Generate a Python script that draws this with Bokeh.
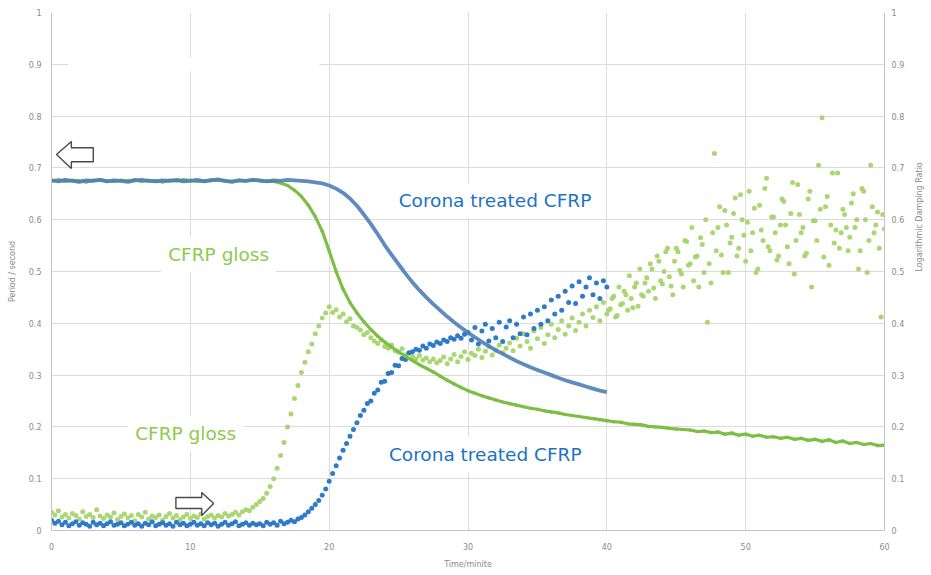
import math
from bokeh.plotting import figure
from bokeh.models import (Range1d, LinearAxis, FixedTicker, CustomJSTickFormatter,
                          Label, BoxAnnotation)
from bokeh.embed import file_html
from bokeh.resources import INLINE

# ---------------- data ----------------
PERIOD_STEP = 0.5     # minutes between period samples
DAMP_STEP = 0.25      # minutes between damping samples
TAIL_START = 40.125   # first time of the interleaved late gloss damping samples

# Period / second, Corona treated CFRP (0 .. 40 min)
period_corona = [
    0.676, 0.674, 0.677, 0.675, 0.673, 0.676, 0.675, 0.677, 0.674, 0.676,
    0.675, 0.673, 0.676, 0.677, 0.675, 0.674, 0.676, 0.675, 0.677, 0.674,
    0.675, 0.677, 0.674, 0.676, 0.678, 0.675, 0.673, 0.676, 0.675, 0.677,
    0.676, 0.674, 0.676, 0.675, 0.677, 0.676,
    0.675, 0.674, 0.672, 0.670, 0.666, 0.660, 0.652, 0.641, 0.627, 0.610,
    0.592, 0.572,
    0.551, 0.532, 0.514, 0.496, 0.479, 0.464, 0.450, 0.437, 0.425, 0.413,
    0.402, 0.392,
    0.382, 0.373, 0.364, 0.356, 0.348, 0.341, 0.334, 0.327, 0.321, 0.315,
    0.310, 0.305,
    0.300, 0.295, 0.290, 0.286, 0.282, 0.278, 0.274, 0.270, 0.267,
]

# Period / second, CFRP gloss (0 .. 60 min)
period_gloss = [
    0.675, 0.677, 0.674, 0.676, 0.675, 0.673, 0.676, 0.677, 0.675, 0.674,
    0.676, 0.675, 0.677, 0.674, 0.676, 0.675, 0.673, 0.676, 0.675, 0.677,
    0.676, 0.674, 0.675, 0.677, 0.676, 0.675, 0.674, 0.676, 0.675, 0.677,
    0.675, 0.674,
    0.674, 0.671, 0.666, 0.657, 0.645, 0.628, 0.606, 0.578, 0.540, 0.500,
    0.466, 0.440,
    0.420, 0.403, 0.388, 0.375, 0.364, 0.354, 0.345, 0.336, 0.328, 0.320,
    0.313, 0.306,
    0.298, 0.290, 0.283, 0.276, 0.270, 0.265, 0.260, 0.256, 0.252, 0.248,
    0.245, 0.242,
    0.239, 0.236, 0.234, 0.231, 0.229, 0.227, 0.224, 0.222, 0.220, 0.218,
    0.216, 0.214,
    0.212, 0.210, 0.209, 0.206, 0.205, 0.204, 0.201, 0.200, 0.199, 0.197,
    0.196, 0.195,
    0.194, 0.191, 0.192, 0.189, 0.190, 0.186, 0.188, 0.184, 0.186, 0.182,
    0.184, 0.180,
    0.181, 0.178, 0.180, 0.176, 0.178, 0.174, 0.176, 0.172, 0.175, 0.170,
    0.173, 0.168, 0.170, 0.166, 0.168, 0.164, 0.165,
]

# Logarithmic damping ratio, Corona treated CFRP (0 .. 40 min)
damp_corona = [
    0.020, 0.014, 0.018, 0.011, 0.016, 0.009, 0.013, 0.017, 0.010, 0.015,
    0.012, 0.008, 0.016, 0.011, 0.014, 0.009, 0.013, 0.017, 0.010, 0.012,
    0.015, 0.009, 0.012, 0.016, 0.010, 0.013, 0.008, 0.014, 0.011, 0.017,
    0.009, 0.012, 0.015, 0.010, 0.013, 0.008, 0.016, 0.011, 0.014, 0.009,
    0.012, 0.016, 0.010, 0.013, 0.009, 0.015, 0.011, 0.014, 0.008, 0.012,
    0.016, 0.010, 0.013, 0.017, 0.009, 0.012, 0.015, 0.010, 0.014, 0.011,
    0.013, 0.009, 0.016, 0.012, 0.015, 0.010, 0.018, 0.013, 0.016, 0.020,
    0.017, 0.022,
    0.025, 0.030, 0.036, 0.043, 0.050, 0.058, 0.068, 0.080,
    0.095, 0.110, 0.125, 0.140, 0.155, 0.168, 0.182, 0.195, 0.208, 0.222,
    0.232, 0.245,
    0.250, 0.265, 0.271, 0.286, 0.288, 0.303, 0.305, 0.319, 0.318, 0.332,
    0.330, 0.343,
    0.345, 0.350, 0.348, 0.356, 0.352, 0.360, 0.357, 0.364, 0.361, 0.368,
    0.365, 0.372, 0.369, 0.376, 0.371, 0.379,
    0.382, 0.368, 0.392, 0.360, 0.385, 0.398, 0.366, 0.390, 0.372, 0.402,
    0.365, 0.393, 0.405, 0.372, 0.398, 0.380, 0.412, 0.378, 0.418, 0.390,
    0.425, 0.398, 0.432, 0.405, 0.445, 0.418, 0.452, 0.425, 0.462, 0.440,
    0.472, 0.438, 0.480, 0.452, 0.470, 0.488, 0.455, 0.478, 0.448, 0.482,
    0.470,
]

# Logarithmic damping ratio, CFRP gloss (0 .. 60 min)
damp_gloss = [
    0.035, 0.030, 0.038, 0.026, 0.031, 0.024, 0.033, 0.029, 0.022, 0.036,
    0.027, 0.031, 0.025, 0.040, 0.028, 0.023, 0.030, 0.026, 0.034, 0.021,
    0.027, 0.032, 0.024, 0.029, 0.019, 0.031, 0.026, 0.035, 0.022, 0.028,
    0.025, 0.030, 0.020, 0.027, 0.033, 0.024, 0.029, 0.021, 0.026, 0.031,
    0.023, 0.028, 0.025, 0.032, 0.022, 0.027, 0.030, 0.024, 0.029, 0.026,
    0.033, 0.028, 0.031, 0.035, 0.030, 0.036,
    0.040, 0.038, 0.045, 0.050, 0.056, 0.062, 0.072, 0.085, 0.100, 0.120,
    0.145, 0.170, 0.200, 0.225, 0.255, 0.280,
    0.305, 0.325, 0.345, 0.360, 0.380, 0.395, 0.410, 0.420,
    0.432, 0.421, 0.426, 0.412, 0.418, 0.403, 0.409, 0.395, 0.392, 0.387,
    0.378, 0.382,
    0.372, 0.366, 0.361, 0.368, 0.355, 0.352, 0.358, 0.347, 0.344, 0.351,
    0.339, 0.342, 0.336, 0.331, 0.338, 0.329, 0.333, 0.326, 0.331, 0.324,
    0.328, 0.335, 0.322, 0.331, 0.340, 0.326, 0.336, 0.345, 0.330, 0.342,
    0.338, 0.350, 0.334, 0.346, 0.355, 0.339, 0.348, 0.358, 0.343, 0.352,
    0.362, 0.347, 0.371, 0.356, 0.380, 0.365, 0.352, 0.385, 0.370, 0.392,
    0.361, 0.378, 0.398, 0.372, 0.388, 0.405, 0.379, 0.395, 0.410, 0.386,
    0.402, 0.418, 0.395, 0.425, 0.411, 0.432, 0.405, 0.440, 0.418, 0.428,
    0.452, 0.415, 0.436, 0.462, 0.425, 0.448, 0.470, 0.433, 0.455, 0.478,
    0.462, 0.505, 0.448, 0.520, 0.476, 0.538, 0.490, 0.455, 0.545, 0.502,
    0.470, 0.558, 0.515, 0.482, 0.530, 0.565, 0.498, 0.402, 0.478, 0.728,
    0.585, 0.532, 0.618, 0.498, 0.566, 0.642, 0.545, 0.600, 0.520, 0.655,
    0.575, 0.498, 0.628, 0.560, 0.680, 0.540, 0.605, 0.522, 0.590, 0.635,
    0.548, 0.612, 0.495, 0.668, 0.575, 0.530, 0.640, 0.470, 0.598, 0.705,
    0.797, 0.625, 0.512, 0.690, 0.580, 0.545, 0.620, 0.585, 0.566, 0.650,
    0.600, 0.540, 0.655, 0.498, 0.705, 0.575, 0.615, 0.412, 0.582,
]

# extra (interleaved) CFRP gloss damping samples, 40.125 .. 59.875 min
damp_gloss_tail = [
    0.425, 0.448, 0.412, 0.470, 0.438, 0.455, 0.492, 0.430, 0.478, 0.505,
    0.452, 0.488, 0.515, 0.468, 0.530, 0.482, 0.500, 0.545, 0.472, 0.520,
    0.538, 0.495, 0.560, 0.512, 0.585, 0.528, 0.470, 0.552, 0.600, 0.515,
    0.575, 0.540, 0.625, 0.498, 0.590, 0.555, 0.612, 0.530, 0.648, 0.570,
    0.595, 0.540, 0.622, 0.505, 0.580, 0.660, 0.548, 0.605, 0.575, 0.530,
    0.640, 0.590, 0.515, 0.672, 0.560, 0.610, 0.585, 0.535, 0.655, 0.598,
    0.560, 0.620, 0.528, 0.645, 0.590, 0.555, 0.690, 0.575, 0.610, 0.540,
    0.632, 0.585, 0.505, 0.660, 0.600, 0.560, 0.625, 0.590, 0.545, 0.610,
]

x_ticks = [0, 10, 20, 30, 40, 50, 60]
y_ticks = [0, 0.1, 0.2, 0.3, 0.4, 0.5, 0.6, 0.7, 0.8, 0.9, 1.0]

label_corona = "Corona treated CFRP"
label_gloss = "CFRP gloss"
x_title = "Time/minite"
y_left_title = "Period / second"
y_right_title = "Logarithmic Damping Ratio"


def sample_times(vals, step, start=0.0):
    return [round(start + i * step, 3) for i in range(len(vals))]


t_pc = sample_times(period_corona, PERIOD_STEP)
t_pg = sample_times(period_gloss, PERIOD_STEP)
t_dc = sample_times(damp_corona, DAMP_STEP)
t_dg = sample_times(damp_gloss, DAMP_STEP)
t_dgt = sample_times(damp_gloss_tail, DAMP_STEP, TAIL_START)

# ---------------- styling ----------------
C_PERIOD_CORONA = "#4d7fb6"
C_PERIOD_GLOSS = "#7dbf45"
C_DAMP_CORONA = "#2474c6"
C_DAMP_GLOSS = "#a5d46c"
C_TEXT_BLUE = "#1c72c4"
C_TEXT_GREEN = "#8dca4e"
TICK_COLOR = "#8a8a8a"
GRID_COLOR = "#dcdcdc"
AXIS_COLOR = "#c4c4c4"

p = figure(width=931, height=575, output_backend="svg", toolbar_location=None,
           x_range=Range1d(0, 60), y_range=Range1d(0, 1),
           min_border_left=51, min_border_right=43, min_border_top=12,
           min_border_bottom=45)
p.outline_line_color = None
p.background_fill_color = "white"
p.extra_y_ranges = {"damp": Range1d(0, 1)}

fmt = CustomJSTickFormatter(code="return (Math.round(tick * 10) / 10).toString();")

p.xaxis.ticker = FixedTicker(ticks=x_ticks)
p.yaxis.ticker = FixedTicker(ticks=y_ticks)
p.yaxis.formatter = fmt
p.xaxis.axis_label = x_title
p.yaxis.axis_label = y_left_title

right_axis = LinearAxis(y_range_name="damp", ticker=FixedTicker(ticks=y_ticks),
                        formatter=fmt, axis_label=y_right_title)
# read the right title bottom-to-top, as in the reference (if supported)
if "axis_label_orientation" in right_axis.properties():
    right_axis.axis_label_orientation = math.pi / 2
p.add_layout(right_axis, "right")

for ax in [p.xaxis[0], p.yaxis[0], right_axis]:
    ax.major_tick_out = 0
    ax.major_tick_in = 0
    ax.minor_tick_out = 0
    ax.minor_tick_in = 0
    ax.axis_line_color = AXIS_COLOR
    ax.axis_line_width = 1
    ax.major_label_text_font = "DejaVu Sans"
    ax.major_label_text_font_size = "8px"
    ax.major_label_text_color = TICK_COLOR
    ax.axis_label_text_font = "DejaVu Sans"
    ax.axis_label_text_font_size = "8px"
    ax.axis_label_text_font_style = "normal"
    ax.axis_label_text_color = TICK_COLOR

p.xaxis.major_label_standoff = 12
p.xaxis.axis_label_standoff = 7
p.yaxis[0].major_label_standoff = 10
p.yaxis[0].axis_label_standoff = 9
right_axis.major_label_standoff = 7
right_axis.axis_label_standoff = 12

p.xgrid.ticker = FixedTicker(ticks=x_ticks)
p.ygrid.ticker = FixedTicker(ticks=y_ticks)
p.grid.grid_line_color = GRID_COLOR
p.grid.grid_line_width = 1

# faint erased patch near top-left (covers part of the 0.9 gridline)
p.add_layout(BoxAnnotation(left=1.2, right=19.3, bottom=0.887, top=0.913,
                           fill_color="white", fill_alpha=1.0, line_color=None,
                           level="underlay"))

# ---------------- series ----------------
p.scatter(t_dg, damp_gloss, y_range_name="damp", size=5, color=C_DAMP_GLOSS,
          alpha=0.95, line_width=0)
p.scatter(t_dgt, damp_gloss_tail, y_range_name="damp", size=5, color=C_DAMP_GLOSS,
          alpha=0.95, line_width=0)
p.scatter(t_dc, damp_corona, y_range_name="damp", size=5, color=C_DAMP_CORONA,
          alpha=0.95, line_width=0)

p.line(t_pg, period_gloss, line_color=C_PERIOD_GLOSS, line_width=3.2)
p.scatter(t_pg, period_gloss, size=3.5, color=C_PERIOD_GLOSS, line_width=0)
p.line(t_pc, period_corona, line_color=C_PERIOD_CORONA, line_width=3.8, line_alpha=0.9)

# ---------------- arrows (annotation shapes) ----------------
left_arrow_x = [0.36, 1.43, 1.43, 3.01, 3.01, 1.43, 1.43]
left_arrow_y = [0.726, 0.751, 0.739, 0.739, 0.712, 0.712, 0.699]
right_arrow_x = [8.96, 10.82, 10.82, 11.68, 10.82, 10.82, 8.96]
right_arrow_y = [0.0637, 0.0637, 0.0734, 0.052, 0.029, 0.0425, 0.0425]
for ax_, ay_ in [(left_arrow_x, left_arrow_y), (right_arrow_x, right_arrow_y)]:
    p.patch(ax_, ay_, fill_color="white", line_color="#4a4a4a", line_width=1.4)

# ---------------- text labels ----------------
labels = [
    (24.5, 0.637, label_corona, C_TEXT_BLUE),
    (7.9, 0.533, label_gloss, C_TEXT_GREEN),
    (5.52, 0.187, label_gloss, C_TEXT_GREEN),
    (23.8, 0.147, label_corona, C_TEXT_BLUE),
]
for lx, ly, txt, col in labels:
    p.add_layout(Label(x=lx, y=ly, text=txt, text_color=col,
                       text_font="DejaVu Sans", text_font_size="18.5px",
                       text_baseline="middle", text_align="left",
                       background_fill_color="white", background_fill_alpha=1.0,
                       padding=7))

open("out.html", "w").write(file_html(p, INLINE))
